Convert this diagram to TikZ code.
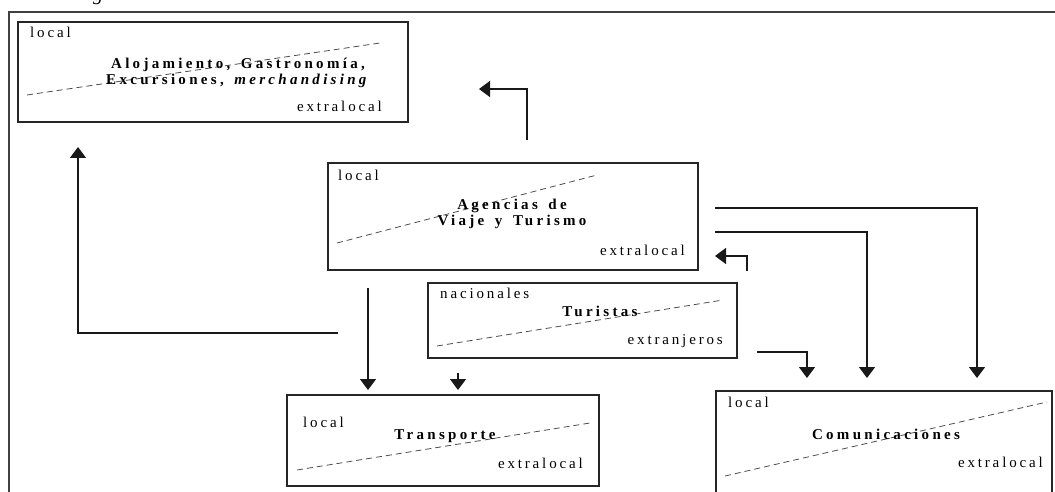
\documentclass[tikz,border=0pt]{standalone}
\usepackage{fontspec}
\setmainfont{Liberation Serif}
\newfontfamily\spaced[LetterSpace=19]{Liberation Serif}
\newfontfamily\spacedb[LetterSpace=22,WordSpace=1.5]{Liberation Serif}
\usetikzlibrary{arrows.meta}
\tikzset{
  box/.style={draw=black!85, line width=1.1pt, inner sep=0pt},
  lbl/.style={font=\spaced\fontsize{15}{16}\selectfont, inner sep=0pt},
  ttl/.style={font=\spacedb\bfseries\fontsize{15}{15.5}\selectfont, align=center, inner sep=0pt},
  divline/.style={dash pattern=on 6pt off 4pt, line width=0.8pt, draw=black!70},
  conn/.style={line width=1.4pt, draw=black!90},
  arr/.style={conn, -{Triangle[length=11pt,width=16pt]}},
}
\begin{document}
\begin{tikzpicture}[x=1pt,y=-1pt]
\useasboundingbox (0,0) rectangle (1055,492);
% outer frame
\draw[line width=1.6pt, black!75] (9,500) -- (9,12) -- (1060,12);
\node[font=\itshape\fontsize{20}{20}\selectfont, anchor=base, inner sep=0pt] (gfrag) at (98,1) {g};

% boxes
\node[box, minimum width=390pt, minimum height=100pt] (aloj) at (213,72) {};
\node[box, minimum width=370pt, minimum height=107pt] (agen) at (513,216.5) {};
\node[box, minimum width=309pt, minimum height=75pt] (tur) at (582.5,320.5) {};
\node[box, minimum width=312pt, minimum height=91pt] (trans) at (443,440.5) {};
\node[box, minimum width=336pt, minimum height=112pt] (com) at (884,447) {};

% dividing dashed lines
\draw[divline] (27,95) -- (380,43);
\draw[divline] (337,243) -- (597,175);
\draw[divline] (437,346) -- (723,300);
\draw[divline] (297,470) -- (590,423);
\draw[divline] (725,476) -- (1047,402);

% labels
\node[lbl, anchor=base west] (aloj-l) at (30,38) {local};
\node[lbl, anchor=base east] (aloj-e) at (382,112) {extralocal};
\node[lbl, anchor=base west] (agen-l) at (338,180) {local};
\node[lbl, anchor=base east] (agen-e) at (685,255) {extralocal};
\node[lbl, anchor=base west] (tur-n) at (440,298) {nacionales};
\node[lbl, anchor=base east] (tur-e) at (723,344) {extranjeros};
\node[lbl, anchor=base west] (trans-l) at (303,427) {local};
\node[lbl, anchor=base east] (trans-e) at (583,468) {extralocal};
\node[lbl, anchor=base west] (com-l) at (728,407) {local};
\node[lbl, anchor=base east] (com-e) at (1043,467) {extralocal};

% titles
\node[ttl] (aloj-t) at (238,73) {Alojamiento, Gastronomía,\\Excursiones, \textit{merchandising}};
\node[ttl] (agen-t) at (512,214) {Agencias de\\Viaje y Turismo};
\node[ttl] (tur-t) at (600,311) {Turistas};
\node[ttl] (trans-t) at (445,436) {Transporte};
\node[ttl] (com-t) at (886,434) {Comunicaciones};

% connector end points
\coordinate (c1a) at (527,140); \coordinate (c1b) at (527,89); \coordinate (c1c) at (479,89);
\coordinate (c2a) at (338,333); \coordinate (c2b) at (78,333); \coordinate (c2c) at (78,147);
\coordinate (c3a) at (368,288); \coordinate (c3b) at (368,390);
\coordinate (c4a) at (458,373); \coordinate (c4b) at (458,390);
\coordinate (c5a) at (715,208); \coordinate (c5b) at (977,208); \coordinate (c5c) at (977,378);
\coordinate (c6a) at (715,232); \coordinate (c6b) at (867,232); \coordinate (c6c) at (867,378);
\coordinate (c7a) at (747,271); \coordinate (c7b) at (747,256); \coordinate (c7c) at (715,256);
\coordinate (c8a) at (757,352); \coordinate (c8b) at (807,352); \coordinate (c8c) at (807,378);

\draw[arr] (c1a) -- (c1b) -- (c1c);
\draw[arr] (c2a) -- (c2b) -- (c2c);
\draw[arr] (c3a) -- (c3b);
\draw[arr] (c4a) -- (c4b);
\draw[arr] (c5a) -- (c5b) -- (c5c);
\draw[arr] (c6a) -- (c6b) -- (c6c);
\draw[arr] (c7a) -- (c7b) -- (c7c);
\draw[arr] (c8a) -- (c8b) -- (c8c);
\end{tikzpicture}
\end{document}
